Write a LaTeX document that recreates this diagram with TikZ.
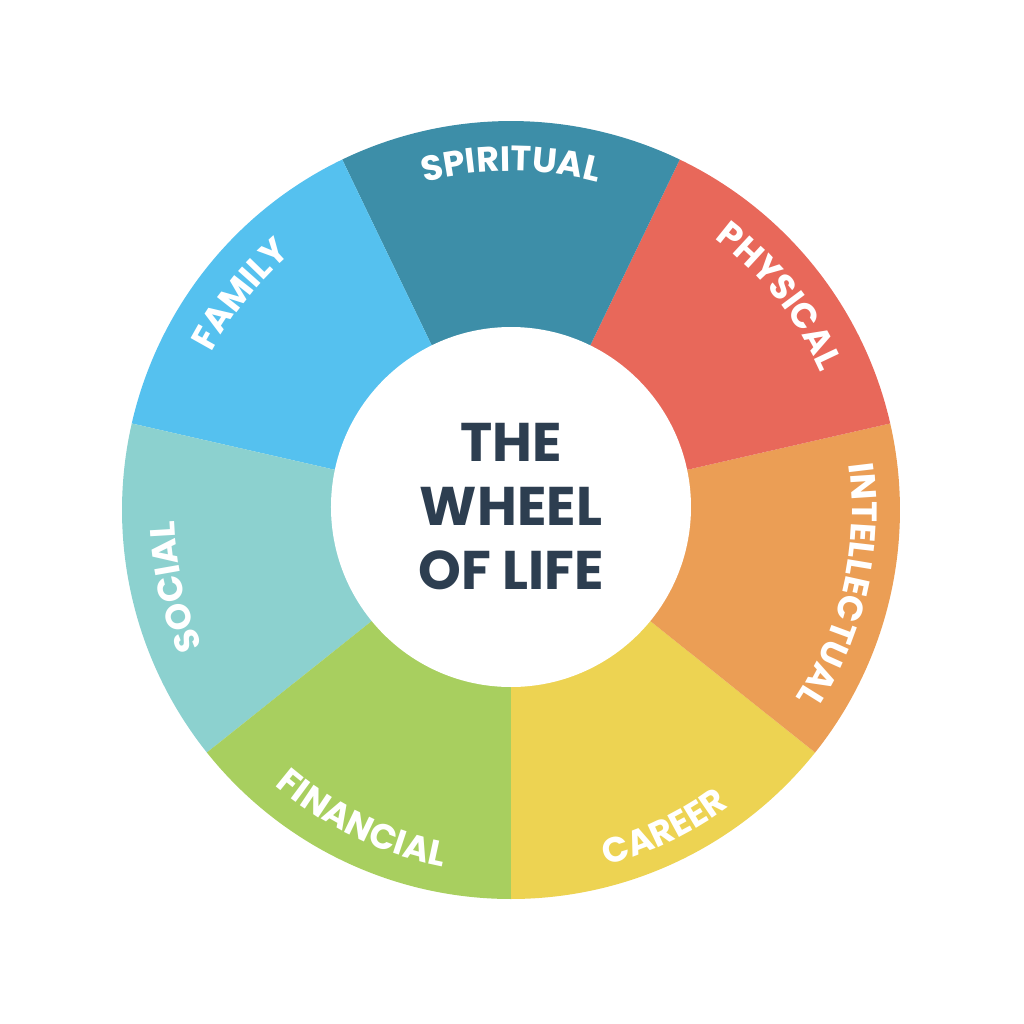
\documentclass[tikz,border=0pt]{standalone}
\usepackage{fontspec}
\setmainfont{Poppins}
\usepackage{tikz}
\usetikzlibrary{decorations.text}

\definecolor{spiritualC}{HTML}{3D8EA8}
\definecolor{physicalC}{HTML}{E8685A}
\definecolor{intellectC}{HTML}{EB9E55}
\definecolor{careerC}{HTML}{EDD352}
\definecolor{financialC}{HTML}{A8CF5F}
\definecolor{socialC}{HTML}{8CD1CF}
\definecolor{familyC}{HTML}{55C1EF}
\definecolor{hubText}{HTML}{2D3E50}

\newcommand{\rimfont}{\fontsize{10}{10}\selectfont\bfseries\color{white}}

\tikzset{
  rimlabel/.style={decorate, decoration={text along path, text align=center,
      text={|\rimfont|#1}}},
}

\begin{document}
\begin{tikzpicture}
  \useasboundingbox (-5.11,-5.14) rectangle (5.13,5.10);

  %% Segments of the wheel (7 x 51.43 deg)
  \fill[careerC]     (0,0) -- (-90:3.89)     arc[start angle=-90,     end angle=-38.571, radius=3.89] -- cycle;
  \fill[intellectC]  (0,0) -- (-38.571:3.89) arc[start angle=-38.571, end angle=12.857,  radius=3.89] -- cycle;
  \fill[physicalC]   (0,0) -- (12.857:3.89)  arc[start angle=12.857,  end angle=64.286,  radius=3.89] -- cycle;
  \fill[spiritualC]  (0,0) -- (64.286:3.89)  arc[start angle=64.286,  end angle=115.714, radius=3.89] -- cycle;
  \fill[familyC]     (0,0) -- (115.714:3.89) arc[start angle=115.714, end angle=167.143, radius=3.89] -- cycle;
  \fill[socialC]     (0,0) -- (167.143:3.89) arc[start angle=167.143, end angle=218.571, radius=3.89] -- cycle;
  \fill[financialC]  (0,0) -- (218.571:3.89) arc[start angle=218.571, end angle=270,     radius=3.89] -- cycle;

  %% Hub
  \node[circle, fill=white, minimum size=3.6cm, inner sep=0pt, align=center,
        text=hubText, font=\fontsize{15.5}{18.2}\selectfont\bfseries] (hub) at (0,0.03)
        {THE\\WHEEL\\OF LIFE};

  %% Labels along the rim
  \path[rimlabel=SPIRITUAL]    (115.714:3.39) arc[start angle=115.714, end angle=64.286,  radius=3.39];
  \path[rimlabel=PHYSICAL]     (64.286:3.39)  arc[start angle=64.286,  end angle=12.857,  radius=3.39];
  \path[rimlabel=INTELLECTUAL] (12.857:3.41)  arc[start angle=12.857,  end angle=-38.571, radius=3.41];
  \path[rimlabel=FAMILY]       (167.143:3.38) arc[start angle=167.143, end angle=115.714, radius=3.38];
  \path[rimlabel=SOCIAL]       (218.571:3.37) arc[start angle=218.571, end angle=167.143, radius=3.37];
  \path[rimlabel=CAREER]       (-90:3.68)     arc[start angle=-90,     end angle=-38.571, radius=3.68];
  \path[rimlabel=FINANCIAL]    (218.571:3.63) arc[start angle=218.571, end angle=270,     radius=3.63];
\end{tikzpicture}
\end{document}
